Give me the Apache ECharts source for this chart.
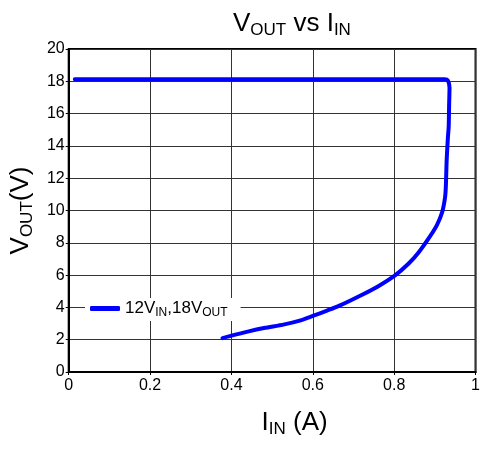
<!DOCTYPE html>
<html>
<head>
<meta charset="utf-8">
<script src="https://cdn.jsdelivr.net/npm/echarts@6/dist/echarts.min.js"></script>
<style>
  html, body { margin: 0; padding: 0; background: #fff; }
  #chart { width: 483px; height: 449px; }
</style>
</head>
<body>
<div id="chart"></div>
<script>
// curve: input current (A) and output voltage (V)
const iin = [0.378, 0.40, 0.44, 0.48, 0.53, 0.57, 0.60, 0.635, 0.664, 0.72, 0.76, 0.803, 0.835, 0.859, 0.888, 0.905, 0.918, 0.925, 0.927, 0.929, 0.932, 0.934, 0.935, 0.936, 0.932, 0.924, 0.5, 0.015];
const vout = [2.1, 2.25, 2.5, 2.72, 2.95, 3.2, 3.47, 3.8, 4.09, 4.77, 5.3, 6.0, 6.7, 7.37, 8.4, 9.1, 9.9, 10.8, 11.5, 13.1, 14.5, 15.2, 16.5, 17.6, 18.05, 18.12, 18.12, 18.12];
const seriesName = '12VIN,18VOUT';

const points = iin.map((x, i) => [x, vout[i]]);

const FONT = 'Liberation Sans, Arial, sans-serif';
const sub = (size) => ({ fontSize: size, lineHeight: size, verticalAlign: 'bottom', fontFamily: FONT, fontWeight: 'normal', color: '#000' });
const main = (size) => ({ fontSize: size, lineHeight: size + 4, fontFamily: FONT, fontWeight: 'normal', color: '#000' });

const chart = echarts.init(document.getElementById('chart'));
chart.setOption({
    animation: false,
    title: {
        text: '{n|V}{s|OUT}{n| vs I}{s|IN}',
        left: 228,
        top: 4,
        textStyle: {
            fontWeight: 'normal',
            rich: { n: main(26), s: sub(17) }
        }
    },
    legend: {
        left: 85,
        top: 298,
        padding: [2, 13, 2, 5],
        backgroundColor: '#fff',
        icon: 'roundRect',
        itemWidth: 30,
        itemHeight: 5,
        formatter: () => '{n|12V}{s|IN}{n|,18V}{s|OUT}',
        textStyle: {
            rich: { n: main(17), s: sub(12) }
        },
        data: [seriesName]
    },
    grid: {
        left: 67,
        right: 5,
        top: 49,
        bottom: 77,
        show: true,
        borderColor: '#000',
        borderWidth: 2,
        backgroundColor: 'transparent'
    },
    xAxis: {
        type: 'value',
        min: 0,
        max: 1,
        interval: 0.2,
        name: '{n|I}{s|IN}{n| (A)}',
        nameLocation: 'middle',
        nameGap: 36,
        nameTextStyle: {
            padding: [0, 0, 0, 45],
            rich: { n: main(26), s: sub(17) }
        },
        axisLine: { lineStyle: { color: '#000', width: 2 } },
        axisTick: { show: true, length: 3, lineStyle: { color: '#000' } },
        axisLabel: { fontSize: 16, fontFamily: FONT, color: '#000', margin: 6 },
        splitLine: { lineStyle: { color: '#333', width: 1 } }
    },
    yAxis: {
        type: 'value',
        min: 0,
        max: 20,
        interval: 2,
        name: '{n|V}{s|OUT}{n|(V)}',
        nameLocation: 'middle',
        nameGap: 30,
        nameRotate: 90,
        nameTextStyle: {
            rich: { n: main(26), s: sub(17) }
        },
        axisLine: { lineStyle: { color: '#000', width: 2 } },
        axisTick: { show: true, length: 3, lineStyle: { color: '#000' } },
        axisLabel: { fontSize: 16, fontFamily: FONT, color: '#000', margin: 4 },
        splitLine: { lineStyle: { color: '#333', width: 1 } }
    },
    series: [
        {
            name: seriesName,
            type: 'line',
            data: points,
            symbol: 'none',
            smooth: 0.3,
            lineStyle: { color: '#0000ff', width: 4, cap: 'round', join: 'round' },
            itemStyle: { color: '#0000ff' },
            z: 3
        }
    ]
});
</script>
</body>
</html>
